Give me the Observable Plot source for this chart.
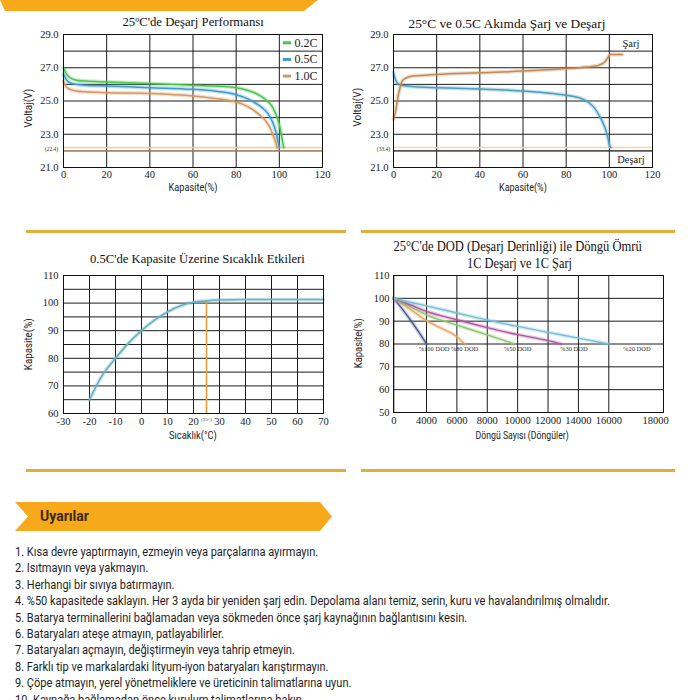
<!DOCTYPE html>
<html><head><meta charset="utf-8">
<script src="https://cdn.jsdelivr.net/npm/d3@7"></script>
<script src="https://cdn.jsdelivr.net/npm/@observablehq/plot@0.6"></script>
<style>
html,body{margin:0;padding:0;background:#fff;}
#page{position:relative;width:700px;height:700px;overflow:hidden;background:#fff;}
</style></head><body><div id="page"></div>
<script>
// ---------- DATA ----------
// Chart 1: 25°C discharge performance
const capTicks = [0, 20, 40, 60, 80, 100, 120];
const voltTicks = [21, 23, 25, 27, 29];
const voltGrid = [21, 22, 23, 24, 25, 26, 27, 28, 29];
const cutoffLines = [22.2, 22.0];
const rateNames = ["0.2C", "0.5C", "1.0C"];
const cap02 = [0, 1, 3, 6, 10, 20, 40, 60, 70, 80, 85, 90, 94, 97, 99, 100.5, 101.3, 102];
const volt02 = [27.0, 26.7, 26.4, 26.25, 26.2, 26.15, 26.05, 25.95, 25.9, 25.8, 25.65, 25.4, 25.05, 24.6, 24.0, 23.3, 22.7, 22.2];
const cap05 = [0, 1, 3, 6, 10, 20, 40, 60, 70, 78, 84, 88, 92, 95, 97, 98.5, 99.3, 100];
const volt05 = [26.6, 26.35, 26.1, 26.0, 25.95, 25.9, 25.8, 25.7, 25.6, 25.45, 25.2, 24.95, 24.6, 24.2, 23.7, 23.1, 22.6, 22.2];
const cap10 = [0, 1, 3, 6, 10, 20, 40, 60, 70, 78, 84, 88, 91, 94, 96, 97.5, 98.4, 99];
const volt10 = [26.2, 25.9, 25.7, 25.6, 25.55, 25.5, 25.45, 25.3, 25.15, 25.0, 24.75, 24.45, 24.15, 23.75, 23.3, 22.8, 22.45, 22.2];

// Chart 2: charge / discharge at 0.5C
const chargeCap = [0, 1, 2, 3, 4, 6, 9, 15, 20, 40, 60, 80, 90, 94, 96, 97.5, 98.5, 99.5, 100.5, 103, 106];
const chargeVolt = [23.9, 24.4, 25.2, 25.8, 26.2, 26.4, 26.5, 26.55, 26.6, 26.7, 26.8, 26.95, 27.05, 27.1, 27.2, 27.3, 27.45, 27.65, 27.8, 27.8, 27.8];
const dischCap = [0, 0.5, 1, 2, 3, 5, 10, 20, 40, 60, 70, 80, 86, 90, 93, 95, 97, 98.5, 99.3, 100, 100.6];
const dischVolt = [26.7, 26.45, 26.25, 26.05, 25.97, 25.92, 25.85, 25.8, 25.72, 25.6, 25.5, 25.35, 25.2, 24.95, 24.6, 24.2, 23.7, 23.2, 22.8, 22.4, 22.2];
const chargeLabels = ["Şarj", "Deşarj"];
const chargeLabelVolt = [28.45, 21.45];

// Chart 3: temperature effect on capacity
const tempTicks = [-30, -20, -10, 0, 10, 20, 30, 40, 50, 60, 70];
const capPctTicks = [60, 70, 80, 90, 100, 110];
const capPctGrid = [60, 65, 70, 75, 80, 85, 90, 95, 100, 105, 110];
const temps = [-20, -15, -10, -5, 0, 5, 10, 15, 20, 25, 30, 40, 50, 60, 70];
const tempCapacity = [65, 74, 80, 85.5, 90, 93.8, 96.8, 99, 100.3, 100.8, 101.1, 101.3, 101.3, 101.3, 101.3];
const refTemp = 25;
const refTempCapacity = 100.8;

// Chart 4: cycle life vs DOD
const cycleTicks = [0, 4000, 6000, 8000, 10000, 12000, 14000, 16000, 18000];
const cycleGrid = [0, 4000, 6000, 8000, 10000, 12000, 14000, 16000];
const lifeTicks = [50, 60, 70, 80, 90, 100, 110];
const dodNames = ["%100 DOD", "%80 DOD", "%50 DOD", "%30 DOD", "%20 DOD"];
const dodLabelCycles = [4500, 6500, 10000, 13700, 17200];
const cycles100 = [0, 1000, 2000, 3000, 4000];
const life100 = [100, 95.5, 90.7, 85.5, 80];
const cycles80 = [0, 2000, 4000, 5000, 6000, 6500];
const life80 = [100, 95.2, 90.2, 86.8, 83.2, 80];
const cycles50 = [0, 2000, 4000, 6000, 8000, 9000, 9800];
const life50 = [100, 96.4, 92.8, 88.3, 84, 81.8, 80];
const cycles30 = [0, 2000, 4000, 6000, 8000, 10000, 12000, 12850];
const life30 = [100, 97.2, 94.3, 90.6, 87.2, 84.1, 81.5, 80];
const cycles20 = [0, 2000, 4000, 6000, 8000, 10000, 12000, 14000, 16000];
const life20 = [100, 98.3, 96.7, 93.6, 90.5, 87.7, 85.1, 82.6, 80];

// Warnings text
const warnings = [
  "1. Kısa devre yaptırmayın, ezmeyin veya parçalarına ayırmayın.",
  "2. Isıtmayın veya yakmayın.",
  "3. Herhangi bir sıvıya batırmayın.",
  "4. %50 kapasitede saklayın. Her 3 ayda bir yeniden şarj edin. Depolama alanı temiz, serin, kuru ve havalandırılmış olmalıdır.",
  "5. Batarya terminallerini bağlamadan veya sökmeden önce şarj kaynağının bağlantısını kesin.",
  "6. Bataryaları ateşe atmayın, patlayabilirler.",
  "7. Bataryaları açmayın, değiştirmeyin veya tahrip etmeyin.",
  "8. Farklı tip ve markalardaki lityum-iyon bataryaları karıştırmayın.",
  "9. Çöpe atmayın, yerel yönetmeliklere ve üreticinin talimatlarına uyun.",
  "10. Kaynağa bağlamadan önce kurulum talimatlarına bakın."
];

// ---------- HELPERS ----------
const page = document.getElementById("page");
const SERIF = "'Liberation Serif', 'DejaVu Serif', serif";
const NARROW = "'Liberation Sans Narrow', 'Roboto', 'Liberation Sans', sans-serif";
const GRID = "#1c1c1c";
const ORANGE = "#f7a81b";
const GOLD = "#e2ad3b";

function rows(xs, ys) { return xs.map((x, i) => ({x, y: ys[i]})); }

function addText(txt, cx, cy, o) {
  const d = document.createElement("div");
  d.textContent = txt;
  Object.assign(d.style, {position: "absolute", whiteSpace: "nowrap", fontFamily: o.font,
    fontSize: o.size + "px", fontWeight: o.weight || "normal", color: o.color || "#111", lineHeight: "1"});
  page.appendChild(d);
  const w = d.offsetWidth, h = d.offsetHeight;
  const sx = o.width ? o.width / w : 1;
  d.style.left = (cx - w / 2) + "px";
  d.style.top = (cy - h / 2) + "px";
  d.style.transformOrigin = "center center";
  d.style.transform = (o.rotate ? `rotate(${o.rotate}deg) ` : "") + `scaleX(${sx})`;
  return d;
}
function addBox(left, top, w, h, bg, clip) {
  const d = document.createElement("div");
  Object.assign(d.style, {position: "absolute", left: left + "px", top: top + "px", width: w + "px", height: h + "px", background: bg});
  if (clip) d.style.clipPath = clip;
  page.appendChild(d);
  return d;
}
function place(svg, left, top) {
  svg.style.position = "absolute";
  svg.style.left = left + "px";
  svg.style.top = top + "px";
  page.appendChild(svg);
}
function glowLine(data, color, w) {
  return [
    Plot.line(data, {x: "x", y: "y", stroke: color, strokeWidth: (w || 1.6) + 2.5, strokeOpacity: 0.3, curve: "monotone-x"}),
    Plot.line(data, {x: "x", y: "y", stroke: color, strokeWidth: w || 1.6, curve: "monotone-x"})
  ];
}
const baseStyle = {fontFamily: SERIF, fontSize: "10.5px", color: "#1a1a1a", background: "transparent", overflow: "visible"};

// ---------- DECOR ----------
addBox(0, 0, 320, 11, ORANGE, "polygon(0 0, 318px 0, 304px 11px, 5px 11px)");
addBox(26, 230, 320, 3, GOLD);
addBox(361, 230, 314, 3, GOLD);
addBox(26, 469, 320, 3, GOLD);
addBox(361, 469, 314, 3, GOLD);
addBox(15, 502, 317, 29, ORANGE, "polygon(0 0, 305px 0, 317px 14.5px, 305px 29px, 0 29px, 13px 14.5px)");
addText("Uyarılar", 0, 0, {font: "Roboto, 'Liberation Sans', sans-serif", size: 14, weight: "bold", color: "#3a2810"}).style.cssText += ";left:40px;top:509px;transform:none;";

// ---------- CHART 1 ----------
const rateColors = ["#4cc44c", "#3f9ccb", "#d39a62"];
const rateData = [rows(cap02, volt02), rows(cap05, volt05), rows(cap10, volt10)];
const c1 = Plot.plot({
  width: 340, height: 200, marginLeft: 63, marginRight: 18, marginTop: 34, marginBottom: 33,
  style: baseStyle,
  x: {domain: [0, 120], ticks: capTicks, tickFormat: d => String(d), tickSize: 0, tickPadding: 3, label: null},
  y: {domain: [21, 29], ticks: voltTicks, tickFormat: d => d.toFixed(1), tickSize: 0, tickPadding: 5, label: null},
  marks: [
    Plot.ruleY(voltGrid, {stroke: GRID, strokeWidth: 1}),
    Plot.ruleX(capTicks, {stroke: GRID, strokeWidth: 1}),
    Plot.ruleY([cutoffLines[0]], {stroke: "#f0cda6", strokeWidth: 1.6}),
    Plot.ruleY([cutoffLines[1]], {stroke: "#c99a6a", strokeWidth: 1.3}),
    ...rateData.flatMap((d, i) => glowLine(d, rateColors[i], 1.5)),
    Plot.link(rateNames, {x1: () => 101.6, x2: () => 105.4, y1: (d, i) => 28.5 - i, y2: (d, i) => 28.5 - i,
      stroke: (d, i) => rateColors[i], strokeWidth: 3}),
    Plot.text(rateNames, {x: () => 107, y: (d, i) => 28.5 - i, text: d => d, textAnchor: "start", fontSize: 12, fill: "#222"}),
    Plot.text(["(22.4)"], {x: () => 0, y: () => 22.1, dx: -12, text: d => d, fontSize: 5.5, fill: "#333"}),
    Plot.frame({stroke: "#111"})
  ]
});
place(c1, 0, 0);
addText("25ºC'de Deşarj Performansı", 193, 21, {font: SERIF, size: 13, width: 141});
addText("Kapasite(%)", 193, 188.5, {font: NARROW, size: 10.5, width: 49, color: "#222"});
addText("Voltaj(V)", 29.5, 108, {font: NARROW, size: 10.5, width: 39, rotate: -90, color: "#222"});

// ---------- CHART 2 ----------
const c2 = Plot.plot({
  width: 360, height: 200, marginLeft: 53, marginRight: 48, marginTop: 34, marginBottom: 33,
  style: baseStyle,
  x: {domain: [0, 120], ticks: capTicks, tickFormat: d => String(d), tickSize: 0, tickPadding: 3, label: null},
  y: {domain: [21, 29], ticks: voltTicks, tickFormat: d => d.toFixed(1), tickSize: 0, tickPadding: 5, label: null},
  marks: [
    Plot.ruleY(voltGrid, {stroke: GRID, strokeWidth: 1}),
    Plot.ruleX(capTicks, {stroke: GRID, strokeWidth: 1}),
    Plot.ruleY([cutoffLines[0]], {stroke: "#efd6ae", strokeWidth: 1.6}),
    Plot.ruleY([cutoffLines[1]], {stroke: "#444", strokeWidth: 1}),
    ...glowLine(rows(dischCap, dischVolt), "#4a9fc2", 1.5),
    ...glowLine(rows(chargeCap, chargeVolt), "#c28a52", 1.5),
    Plot.text(chargeLabels, {x: () => 110, y: (d, i) => chargeLabelVolt[i], text: d => d, fontSize: 10.5, fill: "#222"}),
    Plot.text(["(33.4)"], {x: () => 0, y: () => 22.1, dx: -10, text: d => d, fontSize: 5.5, fill: "#333"}),
    Plot.frame({stroke: "#111"})
  ]
});
place(c2, 340, 0);
addText("25°C ve 0.5C Akımda Şarj ve Deşarj", 507, 23, {font: SERIF, size: 13, width: 197});
addText("Kapasite(%)", 522.5, 188.5, {font: NARROW, size: 10.5, width: 48, color: "#222"});
addText("Voltaj(V)", 358.5, 107, {font: NARROW, size: 10.5, width: 39, rotate: -90, color: "#222"});

// ---------- CHART 3 ----------
const c3 = Plot.plot({
  width: 340, height: 230, marginLeft: 63, marginRight: 17, marginTop: 45, marginBottom: 47,
  style: baseStyle,
  x: {domain: [-30, 70], ticks: tempTicks, tickFormat: d => String(d), tickSize: 0, tickPadding: 4, label: null},
  y: {domain: [60, 110], ticks: capPctTicks, tickFormat: d => String(d), tickSize: 0, tickPadding: 5, label: null},
  marks: [
    Plot.ruleY(capPctGrid, {stroke: GRID, strokeWidth: 1}),
    Plot.ruleX(tempTicks, {stroke: GRID, strokeWidth: 1}),
    Plot.ruleX([refTemp], {y1: 60, y2: refTempCapacity, stroke: "#e39b3c", strokeWidth: 1.6}),
    ...glowLine(rows(temps, tempCapacity), "#6aafc2", 1.6),
    Plot.text(["(25°)"], {x: () => refTemp, y: () => 60, dy: 6, text: d => d, fontSize: 5, fill: "#333"}),
    Plot.frame({stroke: "#111"})
  ]
});
place(c3, 0, 230);
addText("0.5C'de Kapasite Üzerine Sıcaklık Etkileri", 197, 258, {font: SERIF, size: 13, width: 215});
addText("Sıcaklık(°C)", 193, 436, {font: NARROW, size: 10.5, width: 48, color: "#222"});
addText("Kapasite(%)", 28.5, 344, {font: NARROW, size: 10.5, width: 52, rotate: -90, color: "#222"});

// ---------- CHART 4 ----------
const dodColors = ["#4b5a8f", "#e8a466", "#8dc772", "#b3559f", "#74c1d6"];
const dodData = [rows(cycles100, life100), rows(cycles80, life80), rows(cycles50, life50), rows(cycles30, life30), rows(cycles20, life20)];
const c4 = Plot.plot({
  width: 360, height: 230, marginLeft: 53, marginRight: 37, marginTop: 45, marginBottom: 48,
  style: baseStyle,
  x: {type: "linear", domain: [0, 4000, 16000, 18000], range: [53.3, 86, 268.3, 315], ticks: cycleTicks, tickFormat: d => String(d), tickSize: 0, tickPadding: 4, label: null},
  y: {domain: [50, 110], ticks: lifeTicks, tickFormat: d => String(d), tickSize: 0, tickPadding: 4, label: null},
  marks: [
    Plot.ruleY(lifeTicks, {stroke: GRID, strokeWidth: 1}),
    Plot.ruleX(cycleGrid, {stroke: GRID, strokeWidth: 1}),
    ...dodData.flatMap((d, i) => glowLine(d, dodColors[i], 1.4)),
    Plot.text(dodNames, {x: (d, i) => dodLabelCycles[i], y: () => 77.8, text: d => d, fontSize: 6.5, fill: "#333"}),
    Plot.frame({stroke: "#111"})
  ]
});
place(c4, 340, 230);
addText("25°C'de DOD (Deşarj Derinliği) ile Döngü Ömrü", 517.5, 247, {font: SERIF, size: 14, width: 248});
addText("1C Deşarj ve 1C Şarj", 519, 263.5, {font: SERIF, size: 14, width: 105});
addText("Döngü Sayısı (Döngüler)", 521.5, 436, {font: NARROW, size: 10.5, width: 93, color: "#222"});
addText("Kapasite(%)", 358.5, 343.5, {font: NARROW, size: 10.5, width: 50, rotate: -90, color: "#222"});

// ---------- WARNINGS LIST ----------
const list = document.createElement("div");
Object.assign(list.style, {position: "absolute", left: "15px", top: "544px", fontFamily: "Roboto, 'Liberation Sans', sans-serif",
  fontSize: "12.5px", lineHeight: "16.4px", color: "#1e1e1e", whiteSpace: "nowrap", transformOrigin: "0 0"});
warnings.forEach(t => { const l = document.createElement("div"); l.textContent = t; list.appendChild(l); });
page.appendChild(list);
const w4 = list.children[3].getBoundingClientRect().width;
list.style.transform = `scaleX(${595 / w4})`;
</script></body></html>
